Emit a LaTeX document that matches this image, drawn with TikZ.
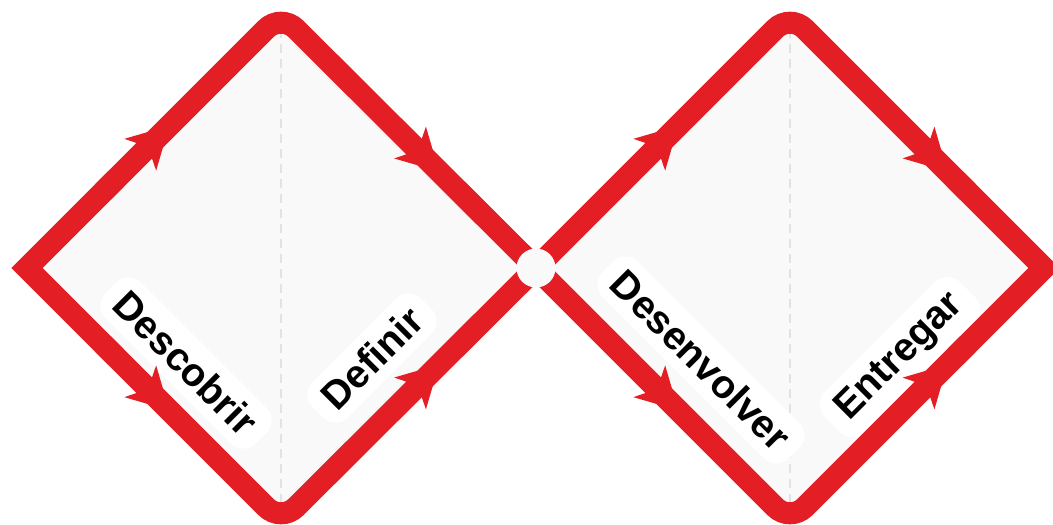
\documentclass[tikz,border=0pt]{standalone}
\usepackage{fontspec}
\setmainfont{Liberation Sans}
\usetikzlibrary{arrows.meta, decorations.markings, calc}
\definecolor{ddred}{RGB}{227,30,36}
\definecolor{ddfill}{RGB}{249,249,249}
\definecolor{dddash}{RGB}{226,226,226}

\begin{document}
\begin{tikzpicture}[x=0.02cm, y=-0.02cm,
	redline/.style={draw=ddred, line width=0.44cm},
	midarrow/.style={decorate, decoration={markings,
		mark=at position #1 with {\arrow[ddred]{Stealth[length=0.82cm, width=0.9cm, inset=0.22cm, line width=0pt]}}}},
	phase/.style={fill=white, rounded corners=0.35cm, inner xsep=8pt, inner ysep=6pt,
		font=\bfseries\fontsize{22.5}{25}\selectfont}]
	\useasboundingbox (0,0) rectangle (1053,524);
	% Corners of the two diamonds:
	\coordinate (west) at (27,268);
	\coordinate (ltop) at (281,14);
	\coordinate (lbot) at (281,522);
	\coordinate (mid) at (536,268);
	\coordinate (rtop) at (790,14);
	\coordinate (rbot) at (790,522);
	\coordinate (east) at (1044,268);
	% Background and middle lines:
	\fill[ddfill, rounded corners=0.42cm] (west) -- (ltop) -- (mid) -- (lbot) -- cycle;
	\fill[ddfill, rounded corners=0.42cm] (mid) -- (rtop) -- (east) -- (rbot) -- cycle;
	\draw[dddash, line width=0.03cm, dash pattern=on 0.18cm off 0.12cm] (ltop) -- (lbot);
	\draw[dddash, line width=0.03cm, dash pattern=on 0.18cm off 0.12cm] (rtop) -- (rbot);
	% Labels:
	\node[phase, rotate=-45] (descobrir) at (186,363) {Descobrir};
	\node[phase, rotate=45] (definir) at (372,358) {Definir};
	\node[phase, rotate=-45] (desenvolver) at (701,360) {Desenvolver};
	\node[phase, rotate=45] (entregar) at (900,357) {Entregar};
	% Outline: two crossing strokes with round top and bottom, sharp tips at both ends
	\draw[redline, rounded corners=0.42cm] ($(west)!0.3!(ltop)$) -- (ltop) -- (mid) -- (rbot) -- ($(rbot)!0.7!(east)$);
	\draw[redline, rounded corners=0.42cm] ($(west)!0.3!(lbot)$) -- (lbot) -- (mid) -- (rtop) -- ($(rtop)!0.7!(east)$);
	\draw[redline, line join=miter] ($(west)!0.35!(ltop)$) -- (west) -- ($(west)!0.35!(lbot)$);
	\draw[redline, line join=miter] ($(east)!0.35!(rtop)$) -- (east) -- ($(east)!0.35!(rbot)$);
	% Arrows:
	\path[midarrow=0.56] (west) -- (ltop);
	\path[midarrow=0.56] (west) -- (lbot);
	\path[midarrow=0.62] (ltop) -- (mid);
	\path[midarrow=0.62] (lbot) -- (mid);
	\path[midarrow=0.56] (mid) -- (rtop);
	\path[midarrow=0.56] (mid) -- (rbot);
	\path[midarrow=0.62] (rtop) -- (east);
	\path[midarrow=0.62] (rbot) -- (east);
	\fill[ddfill] (mid) circle[radius=0.39cm];
\end{tikzpicture}
\end{document}
